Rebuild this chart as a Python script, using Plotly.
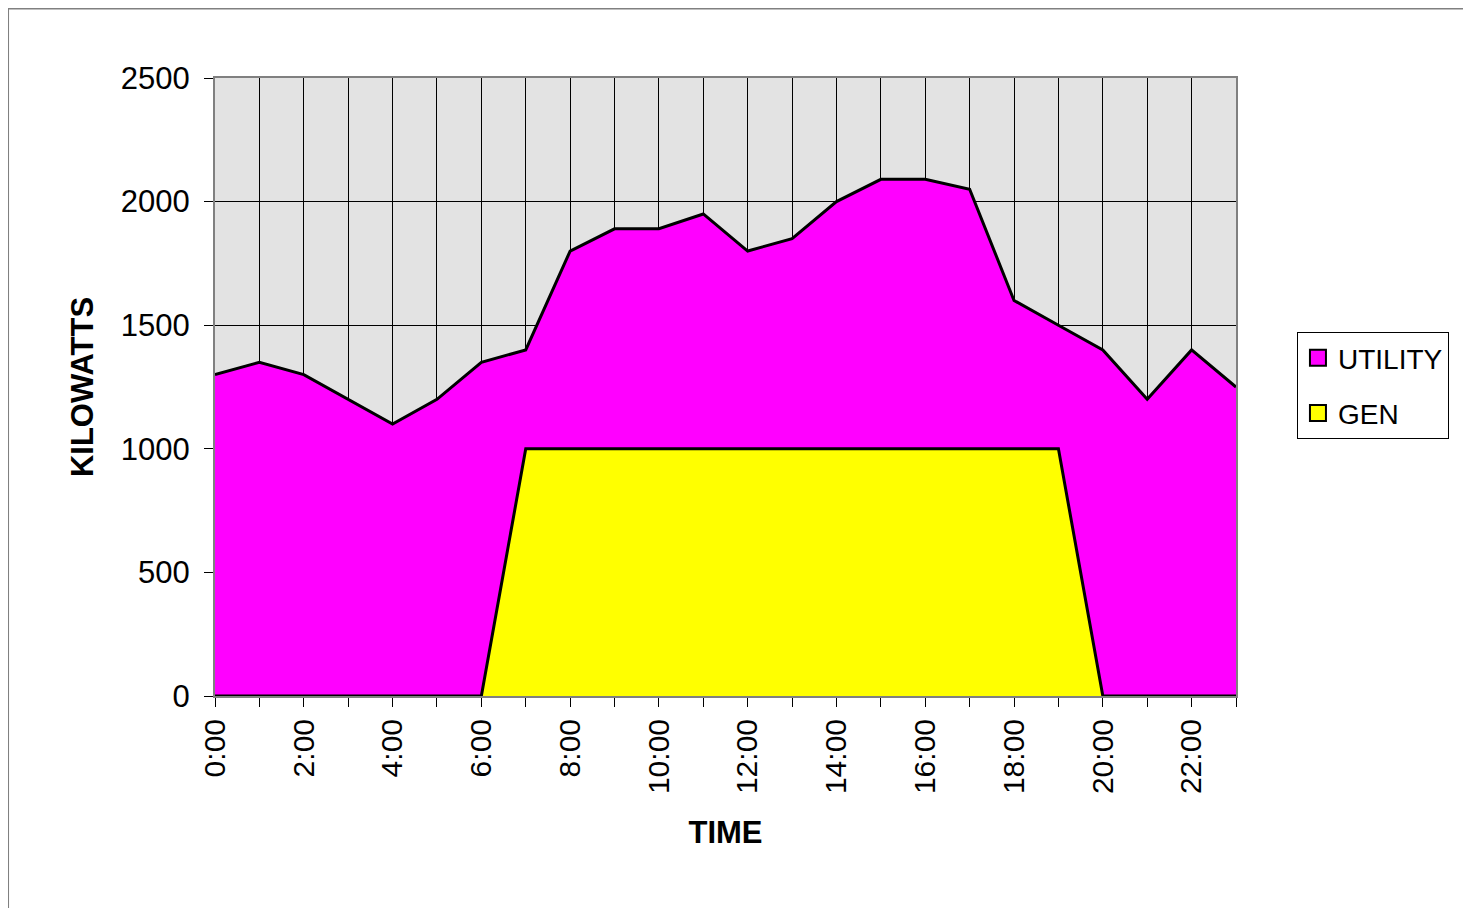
import plotly.graph_objects as go

hours = list(range(24))
tick_labels = [f"{h}:00" if h % 2 == 0 else "" for h in hours]
utility = [1300, 1350, 1300, 1200, 1100, 1200, 1350, 1400, 1800, 1890, 1890, 1950,
           1800, 1850, 2000, 2090, 2090, 2050, 1600, 1500, 1400, 1200, 1400, 1250]
gen = [0, 0, 0, 0, 0, 0, 0, 1000, 1000, 1000, 1000, 1000,
       1000, 1000, 1000, 1000, 1000, 1000, 1000, 1000, 0, 0, 0, 0]
series_names = ["UTILITY", "GEN"]
series_colors = ["#FF00FF", "#FFFF00"]

FONT = "Liberation Sans, Arial, sans-serif"

fig = go.Figure()
for name, vals, col in zip(series_names, [utility, gen], series_colors):
    fig.add_trace(go.Scatter(x=hours, y=vals, name=name, mode="lines",
                             fill="tozeroy", fillcolor=col,
                             line=dict(color="black", width=3), showlegend=False))
# legend entries with square swatches
for name, col in zip(series_names, series_colors):
    fig.add_trace(go.Scatter(x=[None], y=[None], name=name, mode="markers",
                             marker=dict(symbol="square", size=20, color=col,
                                         line=dict(color="black", width=2)),
                             legendgroup=name))

fig.update_layout(
    width=1463, height=900,
    margin=dict(l=207, r=235, t=70, b=212),
    paper_bgcolor="white",
    plot_bgcolor="#E3E3E3",
    font=dict(family=FONT, size=30, color="black"),
    showlegend=True,
    legend=dict(x=1.0597, y=0.589, xanchor="left", yanchor="top",
                bordercolor="black", borderwidth=1, bgcolor="white",
                font=dict(size=28), tracegroupgap=16, traceorder="grouped",
                itemsizing="trace", entrywidth=118, entrywidthmode="pixels"),
    shapes=[dict(type="rect", xref="paper", yref="paper",
                 x0=-0.2027, x1=1.5, y0=-0.6, y1=1.1125,
                 line=dict(color="#808080", width=2), layer="below")],
)
fig.update_xaxes(
    range=[0, 23], tickmode="array", tickvals=hours, ticktext=tick_labels,
    tickangle=-90, ticks="outside", ticklen=9, tickcolor="black",
    showgrid=True, gridcolor="black", gridwidth=1,
    showline=True, linecolor="#808080", linewidth=2, mirror=True,
    zeroline=False,
    title=dict(text="<b>TIME</b>", font=dict(size=31), standoff=28),
    tickfont=dict(size=30),
)
fig.update_yaxes(
    range=[0, 2500], tickvals=[0, 500, 1000, 1500, 2000, 2500],
    ticks="outside", ticklen=9, tickcolor="black",
    showgrid=True, gridcolor="black", gridwidth=1,
    showline=True, linecolor="#808080", linewidth=2, mirror=True,
    zeroline=False, ticklabelstandoff=8,
    title=dict(text="<b>KILOWATTS</b>", font=dict(size=31), standoff=18),
    tickfont=dict(size=31),
)

fig.write_html("out.html")
